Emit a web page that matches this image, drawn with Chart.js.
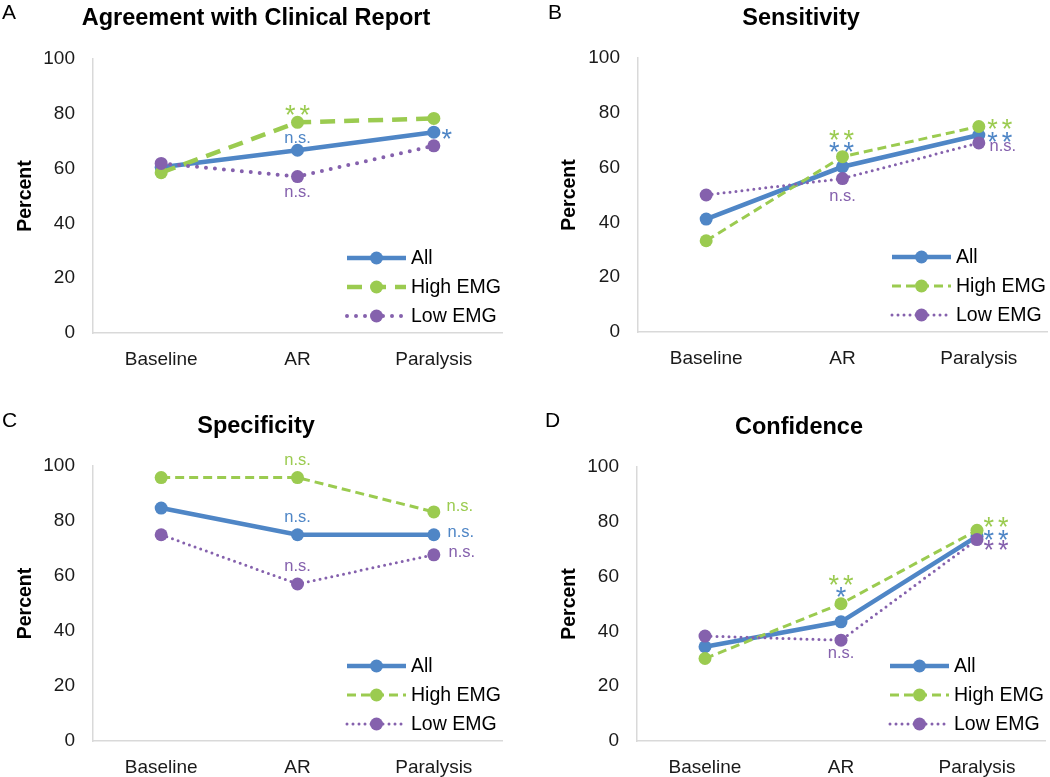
<!DOCTYPE html>
<html>
<head>
<meta charset="utf-8">
<script src="https://cdn.jsdelivr.net/npm/chart.js@4.4.1/dist/chart.umd.min.js"></script>
<style>
  body { margin: 0; background: #fff; width: 1050px; height: 777px; position: relative; overflow: hidden;
         font-family: "Liberation Sans", Arial, sans-serif; color: #000; }
  .panel { position: absolute; width: 525px; }
  .letter { position: absolute; font-size: 21px; line-height: 1; }
  .title { position: absolute; font-size: 23.5px; font-weight: bold; line-height: 1; white-space: nowrap; transform: translateX(-50%); }
</style>
</head>
<body>
<div class="panel" style="left:0;top:0;height:390px"><canvas id="chartA"></canvas></div>
<div class="panel" style="left:525px;top:0;height:390px"><canvas id="chartB"></canvas></div>
<div class="panel" style="left:0;top:390px;height:387px"><canvas id="chartC"></canvas></div>
<div class="panel" style="left:525px;top:390px;height:387px"><canvas id="chartD"></canvas></div>

<div class="letter" style="left:2px;top:1px">A</div>
<div class="letter" style="left:548px;top:1px">B</div>
<div class="letter" style="left:2px;top:409px">C</div>
<div class="letter" style="left:545px;top:409px">D</div>

<div class="title" style="left:256px;top:6px">Agreement with Clinical Report</div>
<div class="title" style="left:801px;top:6px">Sensitivity</div>
<div class="title" style="left:256px;top:414px">Specificity</div>
<div class="title" style="left:799px;top:415px">Confidence</div>

<script>
const categories = ['Baseline', 'AR', 'Paralysis'];
const seriesNames = ['All', 'High EMG', 'Low EMG'];
const yTicks = [0, 20, 40, 60, 80, 100];

const agreementAll = [60.5, 66.7, 73.3];
const agreementHigh = [58.5, 76.9, 78.3];
const agreementLow = [61.9, 57.1, 68.3];

const sensitivityAll = [41.2, 60.3, 71.9];
const sensitivityHigh = [33.3, 64.0, 75.0];
const sensitivityLow = [50.0, 56.0, 69.0];

const specificityAll = [84.7, 75.0, 75.0];
const specificityHigh = [95.8, 95.8, 83.3];
const specificityLow = [75.0, 57.1, 67.7];

const confidenceAll = [34.4, 43.5, 74.7];
const confidenceHigh = [30.1, 50.1, 76.9];
const confidenceLow = [38.3, 36.8, 73.5];

// significance labels: series index, category index, text
const agreementSig = [[1, 1, '**'], [0, 1, 'n.s.'], [0, 2, '*'], [2, 1, 'n.s.']];
const sensitivitySig = [[1, 1, '**'], [0, 1, '**'], [2, 1, 'n.s.'], [1, 2, '**'], [0, 2, '**'], [2, 2, 'n.s.']];
const specificitySig = [[1, 1, 'n.s.'], [0, 1, 'n.s.'], [2, 1, 'n.s.'], [1, 2, 'n.s.'], [0, 2, 'n.s.'], [2, 2, 'n.s.']];
const confidenceSig = [[1, 1, '**'], [0, 1, '*'], [2, 1, 'n.s.'], [1, 2, '**'], [0, 2, '**'], [2, 2, '**']];

// label offsets from the point (px), same order as the lists above
const agreementOff = [[0, -14], [0, -12], [13, 0], [0, 16]];
const sensitivityOff = [[-1, -23], [-1, -21], [0, 18], [21, -4], [21, 0], [24, 4]];
const specificityOff = [[0, -17], [0, -17], [0, -17], [26, -5], [27, -2], [28, -2]];
const confidenceOff = [[0, -25], [0, -31], [0, 13], [19, -10], [19, -3], [19, 4]];

const COLORS = ['#4f86c6', '#9bcb50', '#8561ad'];
const FONT = '"Liberation Sans", Arial, sans-serif';

const sigPlugin = {
  id: 'sig',
  afterDatasetsDraw(chart, args, opts) {
    const ctx = chart.ctx;
    const xs = chart.scales.x, ys = chart.scales.y;
    ctx.save();
    ctx.textAlign = 'center';
    ctx.textBaseline = 'alphabetic';
    opts.labels.forEach((m, k) => {
      const [s, i, text] = m;
      const [dx, dy] = opts.offsets[k];
      const ds = chart.data.datasets[s];
      const px = xs.getPixelForValue(i) + dx;
      const py = ys.getPixelForValue(ds.data[i]) + dy;
      ctx.fillStyle = ds.borderColor;
      if (text.includes('*')) {
        const fs = 27;
        ctx.font = fs + 'px ' + FONT;
        const n = text.length;
        for (let j = 0; j < n; j++) {
          ctx.fillText('*', px + (j - (n - 1) / 2) * 14.5, py + 0.58 * fs);
        }
      } else {
        const fs = 16.5;
        ctx.font = fs + 'px ' + FONT;
        ctx.fillText(text, px, py + 0.27 * fs);
      }
    });
    ctx.restore();
  },
  afterDraw(chart) {
    const ctx = chart.ctx;
    const { right, bottom } = chart.chartArea;
    const rows = [-75, -46, -17];
    ctx.save();
    chart.data.datasets.forEach((ds, k) => {
      const y = bottom + rows[k];
      const x0 = right - 155, x1 = right - 96;
      ctx.strokeStyle = ds.borderColor;
      ctx.lineWidth = ds.borderWidth;
      ctx.lineCap = ds.borderCapStyle;
      ctx.setLineDash(ds.borderDash);
      ctx.beginPath();
      ctx.moveTo(x0, y);
      ctx.lineTo(x1, y);
      ctx.stroke();
      ctx.setLineDash([]);
      ctx.fillStyle = ds.borderColor;
      ctx.beginPath();
      ctx.arc((x0 + x1) / 2, y, 6.5, 0, Math.PI * 2);
      ctx.fill();
      ctx.fillStyle = '#000';
      ctx.font = '19.5px ' + FONT;
      ctx.textAlign = 'left';
      ctx.textBaseline = 'middle';
      ctx.fillText(ds.label, right - 91, y + 1);
    });
    ctx.restore();
  }
};

function makeChart(id, all, high, low, sig, off, box, thick) {
  const styles = thick
    ? [{ w: 4.5, dash: [], cap: 'butt' }, { w: 4.5, dash: [15, 9], cap: 'butt' }, { w: 4, dash: [0, 9], cap: 'round' }]
    : [{ w: 4.5, dash: [], cap: 'butt' }, { w: 3, dash: [9, 5], cap: 'butt' }, { w: 3, dash: [0, 6], cap: 'round' }];
  const values = [all, high, low];
  const datasets = values.map((d, k) => ({
    label: seriesNames[k],
    data: d,
    borderColor: COLORS[k],
    backgroundColor: COLORS[k],
    borderWidth: styles[k].w,
    borderDash: styles[k].dash,
    borderCapStyle: styles[k].cap,
    pointRadius: 6.5,
    pointBorderWidth: 0,
    pointBackgroundColor: COLORS[k],
    tension: 0,
    order: 3 - k
  }));

  new Chart(document.getElementById(id), {
    type: 'line',
    data: { labels: categories, datasets },
    plugins: [sigPlugin],
    options: {
      responsive: true,
      maintainAspectRatio: false,
      animation: false,
      events: [],
      layout: {
        autoPadding: false,
        padding: { top: box.top, right: box.right, bottom: box.bottom, left: 0 }
      },
      plugins: {
        legend: { display: false },
        tooltip: { enabled: false },
        sig: { labels: sig, offsets: off }
      },
      scales: {
        x: {
          offset: true,
          grid: { display: false },
          border: { color: '#d9d9d9', width: 1.5 },
          ticks: { color: '#1a1a1a', font: { family: FONT, size: 19 }, padding: 7 },
          afterFit(scale) { scale.height = 36; }
        },
        y: {
          min: 0,
          max: 100,
          grid: { display: false },
          border: { color: '#d9d9d9', width: 1.5 },
          afterBuildTicks(scale) { scale.ticks = yTicks.map(v => ({ value: v })); },
          ticks: { color: '#1a1a1a', font: { family: FONT, size: 19 }, padding: 10 },
          title: {
            display: true,
            text: 'Percent',
            color: '#000',
            font: { family: FONT, size: 19.5, weight: 'bold' },
            padding: { top: box.titlePad, bottom: 0 }
          },
          afterFit(scale) { scale.width = box.yWidth; }
        }
      }
    }
  });
}

makeChart('chartA', agreementAll, agreementHigh, agreementLow, agreementSig, agreementOff,
  { top: 59, right: 23, bottom: 21, yWidth: 93, titlePad: 14 }, true);
makeChart('chartB', sensitivityAll, sensitivityHigh, sensitivityLow, sensitivitySig, sensitivityOff,
  { top: 58, right: 3, bottom: 22, yWidth: 113, titlePad: 33 }, false);
makeChart('chartC', specificityAll, specificityHigh, specificityLow, specificitySig, specificityOff,
  { top: 76, right: 23, bottom: 0, yWidth: 93, titlePad: 14 }, false);
makeChart('chartD', confidenceAll, confidenceHigh, confidenceLow, confidenceSig, confidenceOff,
  { top: 77, right: 5, bottom: 0, yWidth: 112, titlePad: 33 }, false);
</script>
</body>
</html>
